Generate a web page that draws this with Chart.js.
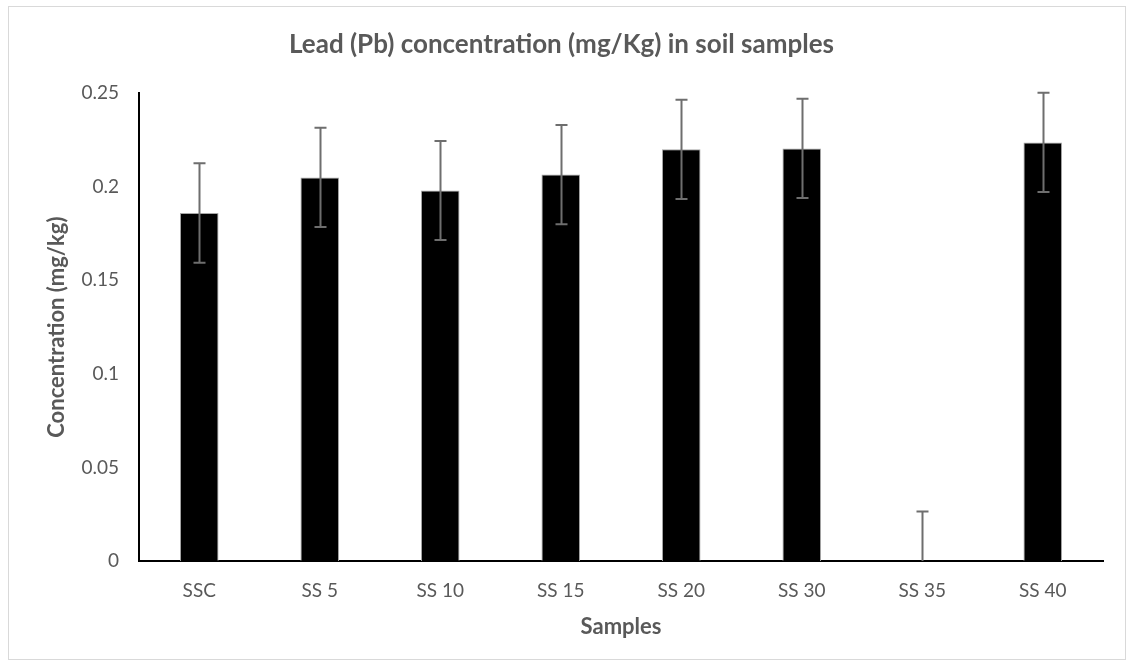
<!DOCTYPE html>
<html>
<head>
<meta charset="utf-8">
<script src="https://cdn.jsdelivr.net/npm/chart.js@4"></script>
<style>
  html, body { margin: 0; padding: 0; background: #fff; }
  #wrap { position: relative; width: 1133px; height: 668px; }
  #frame { position: absolute; left: 8px; top: 6px; width: 1116px; height: 652px; border: 1px solid #d9d9d9; pointer-events: none; }
</style>
</head>
<body>
<div id="wrap">
  <canvas id="myChart" width="1133" height="668"></canvas>
  <div id="frame"></div>
</div>
<script>
const samples = ['SSC', 'SS 5', 'SS 10', 'SS 15', 'SS 20', 'SS 30', 'SS 35', 'SS 40'];
const leadValues = [0.186, 0.205, 0.198, 0.2065, 0.220, 0.2205, 0, 0.2237];
const leadErrors = [0.0266, 0.0265, 0.0265, 0.0265, 0.0265, 0.0265, 0.0265, 0.0265];
const yTicks = [0, 0.05, 0.1, 0.15, 0.2, 0.25];
const yTickLabels = ['0', '0.05', '0.1', '0.15', '0.2', '0.25'];

const grey = '#595959';
const fontName = 'Lato, "Open Sans", sans-serif';

// draws the error bars from the y scale
const errorBars = {
  id: 'errorBars',
  afterDatasetsDraw(chart) {
    const ctx = chart.ctx;
    const y = chart.scales.y;
    const meta = chart.getDatasetMeta(0);
    ctx.save();
    ctx.strokeStyle = '#6e6e6e';
    ctx.lineWidth = 2;
    meta.data.forEach((bar, i) => {
      const v = leadValues[i];
      const e = leadErrors[i];
      const x = Math.round(bar.x) + 0.5;
      const top = y.getPixelForValue(v + e);
      const bot = y.getPixelForValue(Math.max(v - e, 0));
      ctx.beginPath();
      ctx.moveTo(x, top);
      ctx.lineTo(x, bot);
      ctx.moveTo(x - 6, top);
      ctx.lineTo(x + 6, top);
      if (v - e > 0) {
        ctx.moveTo(x - 6, bot);
        ctx.lineTo(x + 6, bot);
      }
      ctx.stroke();
    });
    ctx.restore();
  }
};

const dados = {
  labels: samples,
  datasets: [{
    label: 'Pb',
    data: leadValues,
    backgroundColor: '#000000',
    borderColor: '#a6a6a6',
    borderWidth: 1,
    barPercentage: 0.64,
    categoryPercentage: 0.5
  }]
};

const config = {
  type: 'bar',
  data: dados,
  plugins: [errorBars],
  options: {
    responsive: false,
    animation: false,
    layout: { padding: { left: 20, right: 30, top: 0, bottom: 20 } },
    scales: {
      x: {
        grid: { display: false, drawTicks: false },
        border: { display: true, color: '#000', width: 2 },
        ticks: { color: grey, padding: 18, font: { family: fontName, size: 19 } },
        title: {
          display: true,
          text: 'Samples',
          color: grey,
          padding: { top: 0, bottom: 8 },
          font: { family: fontName, size: 22, weight: 'bold' }
        },
        afterFit: s => { s.height = 87; }
      },
      y: {
        min: 0,
        max: 0.25,
        grid: { display: false, drawTicks: false },
        border: { display: true, color: '#000', width: 2 },
        afterBuildTicks: s => { s.ticks = yTicks.map(v => ({ value: v })); },
        ticks: {
          color: grey,
          padding: 20,
          font: { family: fontName, size: 19 },
          callback: (v, i) => yTickLabels[i]
        },
        title: {
          display: true,
          text: 'Concentration (mg/kg)',
          color: grey,
          padding: { top: 24, bottom: 0 },
          font: { family: fontName, size: 22, weight: 'bold' }
        },
        afterFit: s => { s.width = 119; }
      }
    },
    plugins: {
      legend: { display: false },
      tooltip: { enabled: false },
      title: {
        display: true,
        text: 'Lead (Pb) concentration (mg/Kg) in soil samples',
        color: grey,
        padding: { top: 29, bottom: 33 },
        font: { family: fontName, size: 26, weight: 'bold' }
      }
    }
  }
};

window.onload = function() {
  const ctx = document.getElementById('myChart').getContext('2d');
  new Chart(ctx, config);
};
</script>
</body>
</html>
